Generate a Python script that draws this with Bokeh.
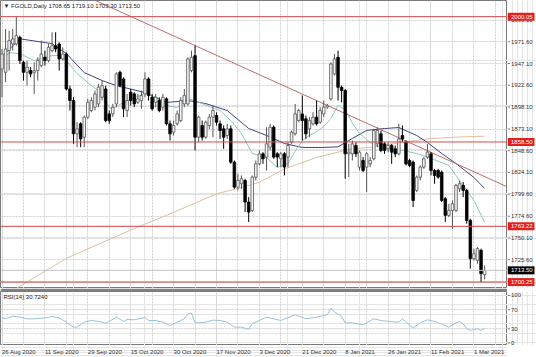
from bokeh.plotting import figure
from bokeh.layouts import column, row
from bokeh.models import ColumnDataSource, FixedTicker, Span, Label, Range1d, Grid
from bokeh.core.properties import value
from bokeh.embed import file_html
from bokeh.resources import INLINE

# ---------------- data ----------------
opens = [1941.0, 1937.2, 1961.7, 1969.2, 1969.2, 1976.7, 1948.5, 1937.2, 1939.1, 1937.2,
         1939.1, 1944.8, 1954.2, 1950.4, 1961.7, 1967.3, 1969.2, 1952.3, 1957.9, 1918.4,
         1905.3, 1867.7, 1879.0, 1863.9, 1886.5, 1894.0, 1897.8, 1901.5, 1909.0, 1918.4,
         1890.2, 1890.2, 1901.5, 1937.2, 1929.7, 1894.0, 1914.7, 1912.8, 1903.4, 1905.3,
         1912.8, 1929.7, 1909.0, 1903.4, 1905.3, 1897.8, 1907.2, 1879.0, 1869.6, 1879.0,
         1882.7, 1901.5, 1901.5, 1939.1, 1956.0, 1863.9, 1877.1, 1863.9, 1877.1, 1886.5,
         1888.4, 1879.0, 1873.3, 1865.8, 1873.3, 1835.7, 1807.5, 1811.3, 1815.0, 1790.6,
         1781.2, 1818.8, 1833.8, 1845.1, 1841.4, 1852.6, 1875.2, 1845.1, 1839.5, 1845.1,
         1841.4, 1858.3, 1867.7, 1882.7, 1890.2, 1884.6, 1873.3, 1879.0, 1886.5, 1880.8,
         1890.2, 1897.8, 1907.2, 1935.4, 1954.2, 1920.3, 1916.6, 1845.1, 1845.1, 1854.5,
         1830.1, 1837.6, 1830.1, 1833.8, 1839.5, 1856.4, 1867.7, 1856.4, 1850.8, 1854.5,
         1850.8, 1845.1, 1865.8, 1858.3, 1837.6, 1835.7, 1803.8, 1818.8, 1830.1, 1841.4,
         1845.1, 1826.3, 1826.3, 1824.4, 1794.4, 1775.6, 1781.2, 1781.2, 1805.6, 1809.4,
         1803.8, 1769.9, 1726.7, 1724.8, 1736.1, 1708.65]
highs = [1963.6, 1986.1, 1984.2, 1986.1, 2000.0, 1978.6, 1950.4, 1950.4, 1942.9, 1948.5,
         1954.2, 1973.0, 1961.7, 1969.2, 1982.4, 1982.4, 1971.1, 1965.4, 1959.8, 1922.2,
         1909.0, 1880.8, 1880.8, 1888.4, 1907.2, 1909.0, 1916.6, 1924.1, 1927.8, 1922.2,
         1894.0, 1901.5, 1937.2, 1939.1, 1931.6, 1912.8, 1918.4, 1914.7, 1912.8, 1916.6,
         1937.2, 1931.6, 1912.8, 1912.8, 1909.0, 1912.8, 1909.0, 1882.7, 1882.7, 1894.0,
         1909.0, 1918.4, 1954.2, 1961.7, 1967.3, 1888.4, 1882.7, 1882.7, 1890.2, 1899.6,
         1892.1, 1882.7, 1877.1, 1879.0, 1877.1, 1837.6, 1822.6, 1820.7, 1816.9, 1796.2,
         1820.7, 1837.6, 1848.9, 1847.0, 1875.2, 1879.0, 1877.1, 1847.0, 1847.0, 1847.0,
         1858.3, 1871.4, 1901.5, 1895.9, 1910.9, 1888.4, 1886.5, 1892.1, 1905.3, 1897.8,
         1905.3, 1901.5, 1948.5, 1957.9, 1961.7, 1922.2, 1918.4, 1856.4, 1860.2, 1858.3,
         1848.9, 1841.4, 1847.0, 1841.4, 1873.3, 1875.2, 1871.4, 1858.3, 1858.3, 1856.4,
         1854.5, 1879.0, 1877.1, 1860.2, 1839.5, 1837.6, 1820.7, 1832.0, 1841.4, 1856.4,
         1847.0, 1828.2, 1828.2, 1826.3, 1796.2, 1788.7, 1792.5, 1811.3, 1815.0, 1813.2,
         1805.6, 1771.8, 1738.0, 1739.8, 1738.0, 1719.10]
lows = [1909.0, 1926.0, 1939.1, 1961.7, 1967.3, 1946.6, 1927.8, 1922.2, 1931.6, 1912.8,
        1927.8, 1942.9, 1944.8, 1948.5, 1959.8, 1959.8, 1939.1, 1950.4, 1916.6, 1894.0,
        1856.4, 1852.6, 1852.6, 1852.6, 1884.6, 1892.1, 1894.0, 1897.8, 1905.3, 1880.8,
        1879.0, 1886.5, 1897.8, 1920.3, 1886.5, 1886.5, 1899.6, 1897.8, 1901.5, 1895.9,
        1909.0, 1905.3, 1894.0, 1897.8, 1892.1, 1894.0, 1877.1, 1860.2, 1865.8, 1877.1,
        1880.8, 1897.8, 1899.6, 1937.2, 1848.9, 1858.3, 1860.2, 1862.0, 1873.3, 1863.9,
        1877.1, 1862.0, 1850.8, 1862.0, 1833.8, 1805.6, 1803.8, 1805.6, 1779.3, 1768.0,
        1779.3, 1815.0, 1832.0, 1833.8, 1826.3, 1848.9, 1839.5, 1830.1, 1830.1, 1820.7,
        1830.1, 1856.4, 1865.8, 1880.8, 1860.2, 1862.0, 1863.9, 1877.1, 1877.1, 1879.0,
        1886.5, 1895.9, 1905.3, 1933.5, 1905.3, 1903.4, 1816.9, 1818.8, 1837.6, 1841.4,
        1826.3, 1824.4, 1801.9, 1830.1, 1837.6, 1852.6, 1847.0, 1845.1, 1847.0, 1833.8,
        1841.4, 1843.2, 1858.3, 1832.0, 1830.1, 1785.0, 1801.9, 1815.0, 1828.2, 1839.5,
        1820.7, 1811.3, 1816.9, 1790.6, 1768.0, 1773.7, 1760.5, 1779.3, 1801.9, 1796.2,
        1766.2, 1715.4, 1724.8, 1721.0, 1700.25, 1703.30]
closes = [1957.9, 1963.6, 1973.0, 1974.8, 1978.6, 1950.4, 1937.2, 1942.9, 1935.4, 1939.1,
          1950.4, 1957.9, 1950.4, 1965.4, 1967.3, 1963.6, 1952.3, 1957.9, 1918.4, 1905.3,
          1867.7, 1873.3, 1862.0, 1886.5, 1903.4, 1905.3, 1912.8, 1920.3, 1922.2, 1882.7,
          1882.7, 1897.8, 1935.4, 1922.2, 1895.9, 1905.3, 1905.3, 1901.5, 1907.2, 1910.9,
          1929.7, 1910.9, 1895.9, 1909.0, 1894.0, 1909.0, 1879.0, 1867.7, 1877.1, 1890.2,
          1905.3, 1910.9, 1952.3, 1954.2, 1863.9, 1886.5, 1863.9, 1880.8, 1886.5, 1894.0,
          1880.8, 1871.4, 1863.9, 1873.3, 1835.7, 1807.5, 1815.0, 1816.9, 1790.6, 1779.3,
          1818.8, 1833.8, 1845.1, 1839.5, 1856.4, 1875.2, 1841.4, 1841.4, 1845.1, 1830.1,
          1854.5, 1869.6, 1890.2, 1894.0, 1882.7, 1867.7, 1882.7, 1886.5, 1879.0, 1894.0,
          1897.8, 1899.6, 1946.6, 1952.3, 1920.3, 1916.6, 1845.1, 1847.0, 1856.4, 1845.1,
          1847.0, 1826.3, 1845.1, 1837.6, 1871.4, 1871.4, 1848.9, 1848.9, 1854.5, 1847.0,
          1845.1, 1862.0, 1862.0, 1833.8, 1832.0, 1792.5, 1818.8, 1830.1, 1839.5, 1847.0,
          1826.3, 1820.7, 1818.8, 1792.5, 1775.6, 1781.2, 1788.7, 1809.4, 1811.3, 1803.8,
          1769.9, 1726.7, 1732.3, 1738.0, 1709.8, 1713.50]

date_labels = ["26 Aug 2020", "11 Sep 2020", "29 Sep 2020", "15 Oct 2020", "30 Oct 2020",
               "17 Nov 2020", "3 Dec 2020", "21 Dec 2020", "8 Jan 2021", "26 Jan 2021",
               "11 Feb 2021", "1 Mar 2021"]
date_label_idx = [0, 12, 24, 36, 48, 60, 72, 84, 96, 108, 120, 132]
grid_idx = [0, 6, 12, 18, 24, 30, 36, 42, 48, 54, 60, 66, 72, 78, 84, 90, 96, 102,
            108, 114, 120, 126, 132, 138]

price_ticks = [1996.10, 1971.60, 1947.10, 1922.60, 1898.10, 1873.10, 1848.60, 1824.10,
               1799.60, 1774.60, 1750.10, 1725.60, 1701.10]
level_vals = [2000.05, 1858.50, 1763.22, 1700.25]
last_price = 1713.50

ma_fast_idx = [0, 2, 5, 9, 14, 16, 18, 21, 25, 28, 30, 31, 35, 40, 44, 46, 49, 52, 56, 61,
               64, 67, 70, 74, 77, 80, 82, 84, 86, 88, 90, 92, 94, 96, 98, 100, 103, 106,
               112, 116, 120, 125, 128, 132, 135]
ma_fast_val = [1950.4, 1959.4, 1958.3, 1950.4, 1956.1, 1956.1, 1950.4, 1935.8, 1922.2, 1913.2,
               1897.4, 1896.3, 1905.3, 1913.2, 1907.6, 1899.7, 1897.4, 1907.6, 1901.9, 1894.0,
               1882.7, 1868.1, 1845.5, 1841.0, 1829.7, 1834.2, 1848.0, 1860.0, 1866.0, 1870.0,
               1876.0, 1885.0, 1900.0, 1895.0, 1880.0, 1868.0, 1858.0, 1852.0, 1849.0, 1845.5,
               1840.0, 1832.0, 1815.0, 1792.5, 1767.7]
ma_slow_idx = [0, 5, 14, 18, 23, 28, 32, 40, 46, 52, 57, 63, 69, 74, 79, 84, 90, 94, 98,
               102, 107, 111, 116, 119, 123, 127, 132, 135]
ma_slow_val = [1955.0, 1975.0, 1969.6, 1958.3, 1936.9, 1927.9, 1922.2, 1914.3, 1903.1, 1905.3,
               1901.9, 1894.0, 1873.7, 1865.8, 1856.8, 1852.3, 1852.3, 1853.0, 1862.5, 1871.5,
               1873.7, 1874.8, 1865.8, 1858.0, 1845.5, 1834.2, 1818.4, 1806.0]
ma_long_idx = [0, 4, 18, 36, 48, 60, 66, 72, 79, 88, 97, 104, 112, 119, 127, 135]
ma_long_val = [1684.0, 1693.0, 1727.0, 1759.0, 1779.0, 1800.0, 1806.0, 1813.0, 1828.0, 1841.0,
               1850.0, 1853.0, 1858.0, 1862.0, 1864.0, 1865.0]
trend_idx = [20, 142]
trend_val = [2029.5, 1806.6]

rsi_idx = [0, 1, 3, 5, 7, 9, 11, 13, 14, 16, 18, 20, 21, 23, 25, 27, 29, 30, 32, 34,
           35, 37, 40, 41, 43, 45, 47, 49, 51, 52, 53, 54, 55, 57, 59, 61, 63, 65, 67, 69,
           70, 72, 74, 78, 82, 85, 88, 91, 92, 93, 95, 96, 98, 101, 104, 106, 108, 111, 112, 113,
           115, 117, 119, 121, 122, 125, 127, 128, 129, 130, 131, 132, 133, 134, 135]
rsi_val = [53.0, 50.9, 56.5, 54.4, 50.9, 50.9, 52.3, 53.7, 55.8, 53.0,
           43.9, 33.3, 33.3, 43.9, 47.4, 45.3, 41.8, 45.3, 54.4, 45.3,
           49.5, 48.8, 53.7, 47.4, 47.4, 43.9, 36.8, 43.9, 50.9, 61.4,
           62.8, 42.5, 42.5, 43.9, 48.1, 47.4, 43.9, 33.3, 33.3, 28.4,
           40.4, 47.4, 54.4, 47.4, 59.3, 50.9, 54.4, 59.3, 73.3, 64.9,
           56.5, 41.8, 42.5, 38.2, 50.9, 47.4, 45.3, 43.9, 50.9, 43.9,
           31.9, 42.5, 48.8, 45.3, 42.5, 33.3, 42.5, 45.3, 40.4, 30.5,
           26.3, 28.4, 29.8, 26.3, 30.7]
rsi_ticks = [100, 70, 30, 0]
rsi_levels = [30, 70]

header_text = "\u25bc FGOLD,Daily 1708.65 1719.10 1703.30 1713.50"
rsi_text = "RSI(14) 30.7240"

# ---------------- styling ----------------
FONT = "Liberation Sans"
FS = "6px"
GRID = "#d2d2d2"
EDGE = "#7a7a7a"
FRAME_W = 507
STRIP_W = 29
MAIN_H = 288
RSI_H = 54


def base_fig(**kw):
    f = figure(toolbar_location=None, output_backend="svg", min_border=0,
               x_axis_location=None, y_axis_location=None, **kw)
    f.background_fill_color = "white"
    f.border_fill_color = "white"
    return f


idx = list(range(len(closes)))
up = [c >= o for o, c in zip(opens, closes)]
src = ColumnDataSource(dict(
    x=idx, o=opens, h=highs, l=lows, c=closes,
    top=[max(o, c) for o, c in zip(opens, closes)],
    bot=[min(o, c) for o, c in zip(opens, closes)],
    fill=["#f4f4f4" if u else "#000000" for u in up],
    edge=["#555555" if u else "#000000" for u in up],
))

XR = Range1d(-0.42, 141.4)
YR = Range1d(1693.0, 2018.3)
RR = Range1d(-5.3, 108.4)

# ---------------- main price panel ----------------
p = base_fig(frame_width=FRAME_W, frame_height=MAIN_H, x_range=XR, y_range=YR)
p.outline_line_color = EDGE
p.add_layout(Grid(dimension=1, ticker=FixedTicker(ticks=price_ticks),
                  grid_line_color=GRID, grid_line_dash="2 1"))
p.add_layout(Grid(dimension=0, ticker=FixedTicker(ticks=grid_idx),
                  grid_line_color=GRID, grid_line_dash="2 1"))

for lv in level_vals:
    p.add_layout(Span(location=lv, dimension="width", line_color="#d24b4b", line_width=1))
p.add_layout(Span(location=last_price, dimension="width", line_color="#c4c4c4", line_width=1))

p.line(ma_long_idx, ma_long_val, line_color="#dcc0a0", line_width=1)
p.line(ma_slow_idx, ma_slow_val, line_color="#3f4382", line_width=1)
p.line(ma_fast_idx, ma_fast_val, line_color="#8ec6bd", line_width=1)
p.line(trend_idx, trend_val, line_color="#bb6e6e", line_width=1)

p.segment(x0="x", y0="l", x1="x", y1="h", line_color="edge", line_width=1, source=src)
p.vbar(x="x", width=0.72, top="top", bottom="bot", fill_color="fill",
       line_color="edge", line_width=0.8, source=src)

p.add_layout(Label(x=3, y=MAIN_H - 2, x_units="screen", y_units="screen", text=header_text,
                   text_font=FONT, text_font_size=FS, text_color="#222222",
                   text_baseline="top"))

# ---------------- price scale strip (right) ----------------
ps = base_fig(frame_width=STRIP_W, frame_height=MAIN_H, x_range=Range1d(0, STRIP_W), y_range=YR)
ps.outline_line_color = None
ps.segment(x0=0, y0=price_ticks, x1=2.5, y1=price_ticks, line_color=EDGE, line_width=1)
ps.text(x=3.5, y=price_ticks, text=[f"{v:.2f}" for v in price_ticks],
        text_font=value(FONT), text_font_size=value(FS), text_color="#333333",
        text_align="left", text_baseline="middle")
ps.rect(x=13.5, y=level_vals, width=27, height=8, height_units="screen",
        fill_color="#e3201c", line_color=None)
ps.rect(x=13.5, y=[last_price], width=27, height=8, height_units="screen",
        fill_color="#000000", line_color=None)
ps.text(x=3.5, y=level_vals + [last_price],
        text=[f"{v:.2f}" for v in level_vals + [last_price]],
        text_font=value(FONT), text_font_size=value(FS), text_color="white",
        text_align="left", text_baseline="middle")

# ---------------- RSI panel ----------------
r = base_fig(frame_width=FRAME_W, frame_height=RSI_H, x_range=XR, y_range=RR, min_border_top=3)
r.border_fill_color = "#808080"
r.outline_line_color = EDGE
r.add_layout(Grid(dimension=1, ticker=FixedTicker(ticks=rsi_levels),
                  grid_line_color=GRID, grid_line_dash="2 1"))
r.add_layout(Grid(dimension=0, ticker=FixedTicker(ticks=grid_idx),
                  grid_line_color=GRID, grid_line_dash="2 1"))
r.line(rsi_idx, rsi_val, line_color="#97c3d6", line_width=1)
r.add_layout(Label(x=3, y=RSI_H - 2, x_units="screen", y_units="screen", text=rsi_text,
                   text_font=FONT, text_font_size=FS, text_color="#222222",
                   text_baseline="top"))

rs = base_fig(frame_width=STRIP_W, frame_height=RSI_H, x_range=Range1d(0, STRIP_W), y_range=RR,
              min_border_top=3)
rs.outline_line_color = None
rs.segment(x0=0, y0=rsi_ticks, x1=2.5, y1=rsi_ticks, line_color=EDGE, line_width=1)
rs.text(x=3.5, y=rsi_ticks, text=[str(v) for v in rsi_ticks],
        text_font=value(FONT), text_font_size=value(FS), text_color="#333333",
        text_align="left", text_baseline="middle")

# ---------------- date strip (bottom) ----------------
d = base_fig(frame_width=FRAME_W, frame_height=12, x_range=XR, y_range=Range1d(0, 1))
d.outline_line_color = None
d.text(x=date_label_idx, y=0.5, text=date_labels, text_font=value(FONT),
       text_font_size=value(FS), text_color="#333333", text_align="left",
       text_baseline="middle")

layout = column(row(p, ps, spacing=0), row(r, rs, spacing=0), d, spacing=0)
open("out.html", "w").write(file_html(layout, INLINE))
